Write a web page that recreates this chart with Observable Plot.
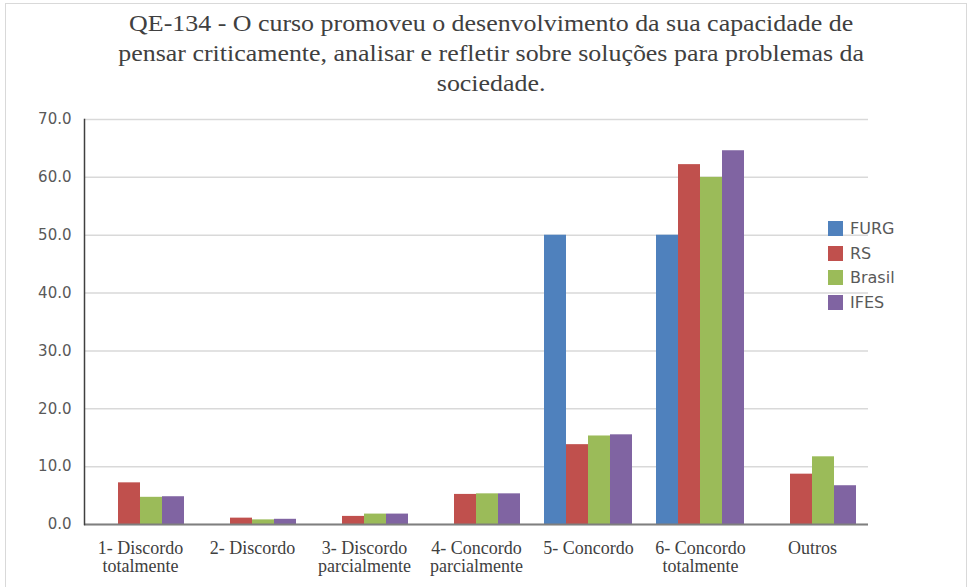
<!DOCTYPE html>
<html>
<head>
<meta charset="utf-8">
<script src="https://cdn.jsdelivr.net/npm/d3@7"></script>
<script src="https://cdn.jsdelivr.net/npm/@observablehq/plot@0.6"></script>
<style>
  body { margin: 0; background: #fff; }
  #wrap { position: relative; width: 973px; height: 587px; overflow: hidden; background: #fff; }
  #border { position: absolute; left: 5px; top: 3px; width: 960px; height: 620px; border: 1px solid #d9d9d9; }
  #title { position: absolute; left: 5px; top: 8px; width: 973px; text-align: center;
           font-family: "Liberation Serif", serif; font-size: 24px; line-height: 30px; color: #404040;
           transform: scaleX(1.08); transform-origin: 491px 0; }
  #chart { position: absolute; left: 0; top: 100px; }
  #chart svg { overflow: visible; }
  [aria-label="y-axis tick label"] text { font-family: "DejaVu Sans", sans-serif; font-size: 15px; fill: #595959; }
  [aria-label="fx-axis tick label"] text { font-family: "Liberation Serif", serif; font-size: 18px; fill: #404040; }
  #legend { position: absolute; left: 828px; top: 216px; font-family: "DejaVu Sans", sans-serif; font-size: 16px; color: #595959; }
  .item { display: flex; align-items: center; height: 24.8px; }
  .sw { width: 15px; height: 15px; margin-right: 7px; }
</style>
</head>
<body>
<div id="wrap">
  <div id="border"></div>
  <div id="title">QE-134 - O curso promoveu o desenvolvimento da sua capacidade de<br>pensar criticamente, analisar e refletir sobre soluções para problemas da<br>sociedade.</div>
  <div id="chart"></div>
  <div id="legend"></div>
</div>
<script>
const categories = ["1- Discordo totalmente", "2- Discordo", "3- Discordo parcialmente", "4- Concordo parcialmente", "5- Concordo", "6- Concordo totalmente", "Outros"];
const tickLabels = ["1- Discordo\ntotalmente", "2- Discordo", "3- Discordo\nparcialmente", "4- Concordo\nparcialmente", "5- Concordo", "6- Concordo\ntotalmente", "Outros"];
const series = ["FURG", "RS", "Brasil", "IFES"];
const colors = ["#4F81BD", "#C0504D", "#9BBB59", "#8064A2"];
const furg   = [0, 0, 0, 0, 50.0, 50.0, 0];
const rs     = [7.2, 1.1, 1.4, 5.2, 13.8, 62.2, 8.7];
const brasil = [4.7, 0.8, 1.8, 5.3, 15.3, 60.0, 11.7];
const ifes   = [4.8, 0.9, 1.8, 5.3, 15.5, 64.6, 6.7];
const yTicks = [0, 10, 20, 30, 40, 50, 60, 70];

const valuesBySeries = [furg, rs, brasil, ifes];
const data = [];
categories.forEach((c, i) => {
  series.forEach((s, j) => data.push({category: c, series: s, value: valuesBySeries[j][i]}));
});

const chart = Plot.plot({
  width: 973,
  height: 487,
  marginTop: 19,
  marginBottom: 63,
  marginLeft: 81,
  marginRight: 103,
  fx: {domain: categories, padding: 0},
  x: {domain: series, paddingInner: 0, paddingOuter: 0.47, axis: null},
  y: {domain: [0, 70]},
  color: {domain: series, range: colors},
  marks: [
    Plot.gridY(yTicks, {stroke: "#d9d9d9", strokeOpacity: 1, strokeWidth: 1.5}),
    Plot.barY(data, {fx: "category", x: "series", y: "value", fill: "series"}),
    Plot.ruleY([0], {stroke: "#7f7f7f", strokeWidth: 2}),
    Plot.frame({anchor: "left", facetAnchor: "left", stroke: "#404040", strokeWidth: 1.5}),
    Plot.axisY(yTicks, {tickSize: 0, tickPadding: 13, tickFormat: d => d.toFixed(1), label: null}),
    Plot.axisFx({anchor: "bottom", tickSize: 0, tickPadding: 16, label: null, lineHeight: 1.03,
                 tickFormat: d => tickLabels[categories.indexOf(d)]})
  ]
});
document.getElementById("chart").appendChild(chart);

const legend = document.getElementById("legend");
series.forEach((s, i) => {
  const item = document.createElement("div");
  item.className = "item";
  const sw = document.createElement("div");
  sw.className = "sw";
  sw.style.background = colors[i];
  const t = document.createElement("span");
  t.textContent = s;
  item.appendChild(sw);
  item.appendChild(t);
  legend.appendChild(item);
});
</script>
</body>
</html>
